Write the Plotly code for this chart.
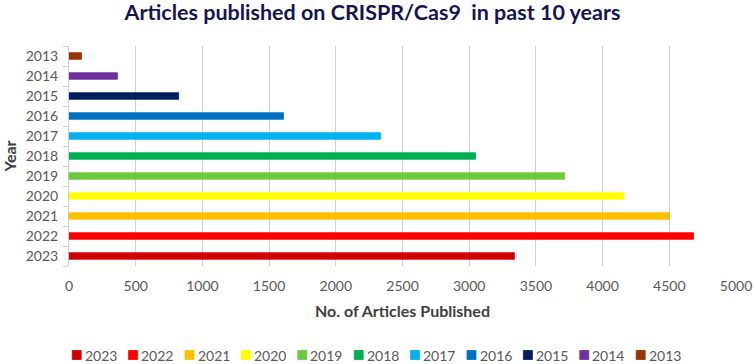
import plotly.graph_objects as go

years = ["2013", "2014", "2015", "2016", "2017", "2018", "2019", "2020", "2021", "2022", "2023"]
articles = [94, 363, 822, 1608, 2335, 3047, 3714, 4159, 4501, 4681, 3339]
colors = ["#993300", "#7030A0", "#002060", "#0070C0", "#00B0F0", "#00B050",
          "#6CCB3C", "#FFFF00", "#FFC000", "#FF0000", "#D00000"]
x_ticks = [0, 500, 1000, 1500, 2000, 2500, 3000, 3500, 4000, 4500, 5000]

W, H = 754, 364
ML, MR, MT, MB = 69, 18, 46, 98
PW, PH = W - ML - MR, H - MT - MB

fig = go.Figure()
for yr, val, col in reversed(list(zip(years, articles, colors))):
    fig.add_trace(go.Bar(
        y=[yr], x=[val], name=yr, orientation="h",
        marker=dict(color=col, line=dict(color=col, width=0.8)),
        width=0.33, showlegend=False,
    ))

# legend (2023 first ... 2013 last), drawn as squares + text below the axis title
def px_x(p):
    return (p - ML) / PW

def px_y(p):
    return (H - MB - p) / PH

leg_y = 355
leg_x0 = 76.7
leg_pitch = 56.4
half = 4.5
for i, (yr, col) in enumerate(reversed(list(zip(years, colors)))):
    cx = leg_x0 + i * leg_pitch
    fig.add_shape(type="rect", xref="paper", yref="paper",
                  x0=px_x(cx - half), x1=px_x(cx + half),
                  y0=px_y(leg_y + half), y1=px_y(leg_y - half),
                  fillcolor=col, line=dict(color=col, width=0.8))
    fig.add_annotation(xref="paper", yref="paper", x=px_x(cx + 7), y=px_y(leg_y),
                       xanchor="left", yanchor="middle", showarrow=False, text=yr,
                       height=15, borderpad=0,
                       font=dict(size=14, color="#595959"))

fig.update_layout(
    width=W, height=H,
    margin=dict(l=ML, r=MR, t=MT, b=MB, autoexpand=False),
    paper_bgcolor="white", plot_bgcolor="white",
    barmode="overlay",
    font=dict(family="Lato, sans-serif", size=14, color="#595959"),
    title=dict(text="<b>Articles published on CRISPR/Cas9  in past 10 years</b>",
               x=0.494, xanchor="center", y=0.967, yanchor="middle",
               font=dict(family="Lato, sans-serif", size=21.5, color="#15154F")),
    xaxis=dict(range=[0, 5000], tickvals=x_ticks, showgrid=True, gridcolor="#D0D0D0",
               gridwidth=1.3, zeroline=False, showline=False, ticks="", automargin=False,
               ticklabelstandoff=10,
               title=dict(text="<b>No. of Articles Published</b>",
                          font=dict(size=16, color="#404040"), standoff=12),
               tickfont=dict(size=14, color="#595959")),
    yaxis=dict(categoryorder="array", categoryarray=years[::-1], autorange=False,
               range=[-0.5, 10.5], showgrid=False, zeroline=False, automargin=False,
               showline=True, linecolor="#D0D0D0", linewidth=1,
               ticks="outside", tickson="boundaries", ticklen=5, tickcolor="#D0D0D0",
               ticklabelstandoff=7,
               title=dict(text="<b>Year</b>", font=dict(size=16, color="#404040"), standoff=5),
               tickfont=dict(size=14, color="#595959")),
    showlegend=False,
)

fig.write_html("out.html", config={"displayModeBar": False},
               post_script="document.body.style.margin='0';")
